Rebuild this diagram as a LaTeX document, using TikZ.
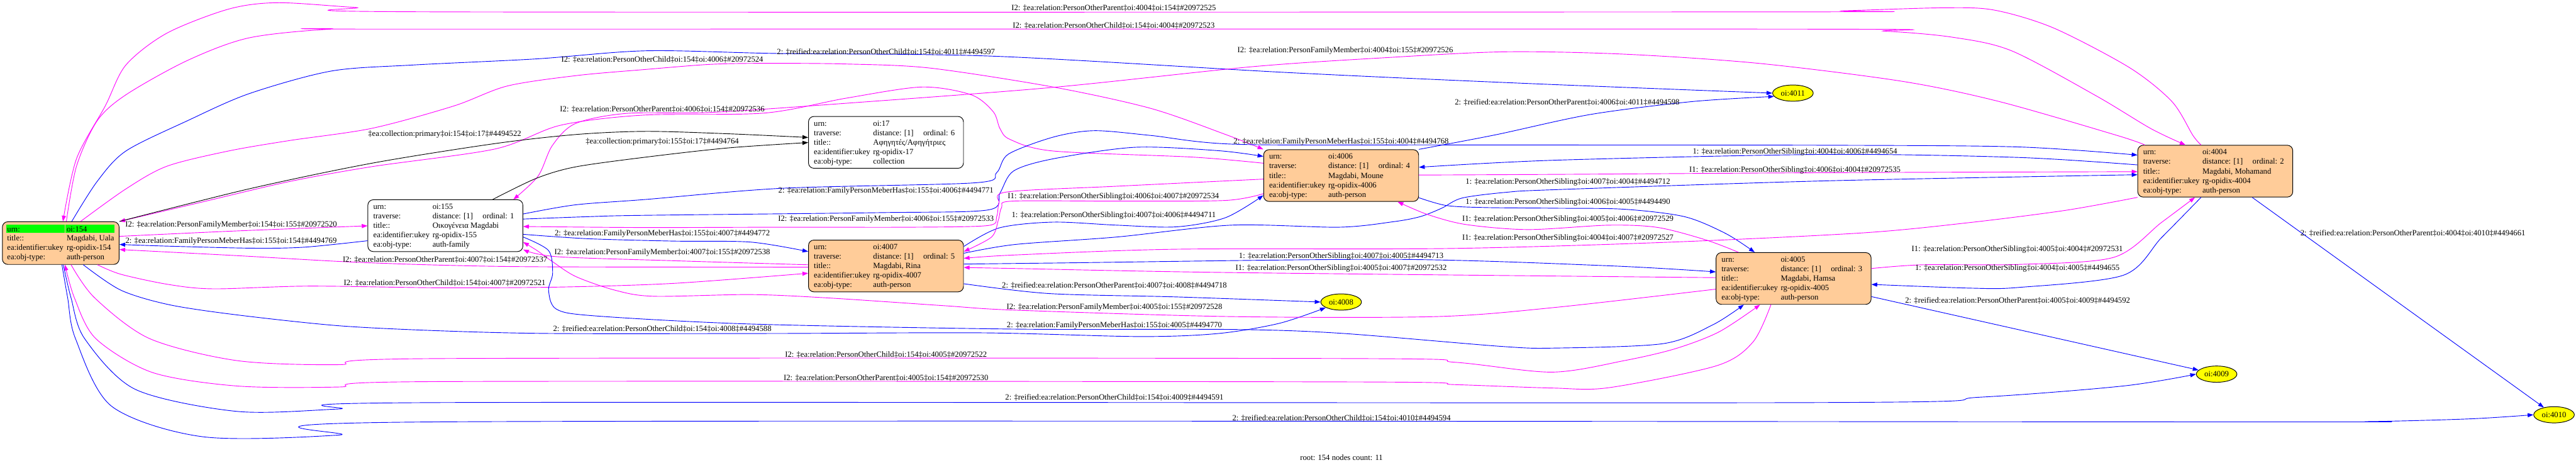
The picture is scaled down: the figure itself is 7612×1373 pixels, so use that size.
\documentclass[tikz,border=0pt]{standalone}
\usepackage{fontspec}
\setmainfont{Liberation Serif}
\usetikzlibrary{arrows.meta,shapes.geometric}
\definecolor{mag}{HTML}{FF00FF}
\definecolor{blu}{HTML}{0000FF}
\definecolor{peach}{HTML}{FFCC99}
\definecolor{grn}{HTML}{00FF00}
\definecolor{yel}{HTML}{FFFF00}
\tikzset{
  fnt/.style={font=\fontsize{23.6}{28}\selectfont},
  recbox/.style={draw=black,line width=1.8pt,rounded corners=16pt,minimum width=458pt,minimum height=153pt,inner sep=0pt},
  txt/.style={fnt,anchor=base west,inner sep=0pt},
  lbl/.style={fnt,anchor=base,inner sep=0pt},
  ell/.style={ellipse,draw=black,fill=yel,line width=1.8pt,minimum width=120pt,minimum height=48pt,inner sep=0pt,fnt},
  ge/.style={line width=1.7pt,-{Triangle[length=17pt,width=12pt]}},
  me/.style={ge,draw=mag,fill=none,-{Triangle[length=17pt,width=12pt,fill=mag]}},
  be/.style={ge,draw=blu,-{Triangle[length=17pt,width=12pt,fill=blu]}},
  ke/.style={ge,draw=black},
  sm/.style={smooth,tension=0.5}
}
\newcommand\recnode[9]{%
  \node[recbox,fill=#4] (#1) at (#2+229,#3+76.5) {};
  \node[txt] (#1a) at (#2+16,#3+28) {urn:};
  \node[txt] (#1b) at (#2+191,#3+28) {#5};
  \node[txt] (#1c) at (#2+16,#3+56) {traverse:};
  \node[txt] (#1d) at (#2+191,#3+56) {distance: [1]};
  \node[txt] (#1e) at (#2+339,#3+56) {ordinal: #6};
  \node[txt] (#1f) at (#2+16,#3+84) {title::};
  \node[txt] (#1g) at (#2+191,#3+84) {#7};
  \node[txt] (#1h) at (#2+16,#3+112) {ea:identifier:ukey};
  \node[txt] (#1i) at (#2+191,#3+112) {#8};
  \node[txt] (#1j) at (#2+16,#3+140) {ea:obj-type:};
  \node[txt] (#1k) at (#2+191,#3+140) {#9};
}
\begin{document}
\begin{tikzpicture}[x=1pt,y=-1pt]
\useasboundingbox (0,0) rectangle (7612,1373);
% ---------------- nodes
\node[recbox,fill=peach,minimum width=345pt,minimum height=126pt] (n154) at (179.5,718) {};
\node[fill=grn,minimum width=173pt,minimum height=25pt,inner sep=0pt] (g1) at (104.5,675.5) {};
\node[fill=grn,minimum width=145pt,minimum height=25pt,inner sep=0pt] (g2) at (265.5,675.5) {};
\node[txt] (n154a) at (21,684) {urn:};
\node[txt] (n154b) at (197,684) {oi:154};
\node[txt] (n154c) at (21,711) {title::};
\node[txt] (n154d) at (197,711) {Magdabi, Uala};
\node[txt] (n154e) at (21,739) {ea:identifier:ukey};
\node[txt] (n154f) at (197,739) {rg-opidix-154};
\node[txt] (n154g) at (21,767) {ea:obj-type:};
\node[txt] (n154h) at (197,767) {auth-person};
\recnode{n155}{1087}{590}{white}{oi:155}{1}{Οικογένεια Magdabi}{rg-opidix-155}{auth-family}
\recnode{n17}{2389}{344}{white}{oi:17}{6}{Αφηγητές/Αφηγήτριες}{rg-opidix-17}{collection}
\recnode{n4007}{2389}{709}{peach}{oi:4007}{5}{Magdabi, Rina}{rg-opidix-4007}{auth-person}
\recnode{n4006}{3734}{442}{peach}{oi:4006}{4}{Magdabi, Moune}{rg-opidix-4006}{auth-person}
\recnode{n4005}{5071}{746}{peach}{oi:4005}{3}{Magdabi, Hamsa}{rg-opidix-4005}{auth-person}
\recnode{n4004}{6317}{429}{peach}{oi:4004}{2}{Magdabi, Mohamand}{rg-opidix-4004}{auth-person}
\node[ell] (e4011) at (5298,275) {oi:4011};
\node[ell] (e4008) at (3963,892) {oi:4008};
\node[ell] (e4009) at (6550,1105) {oi:4009};
\node[ell] (e4010) at (7547,1225) {oi:4010};
% ---------------- edges
% E1 4004->154
\draw[me] plot[sm] coordinates {(6504,0 |- n4004.north) (6480,400) (6418,300) (6293,200) (6069,83) (5894,30) (5745,23) (5446,32) (5321,35) (1293,35) (1050,22) (820,8) (675,27) (493,98) (372,192) (311,313) (226,469) (186,0 |- n154.north)};
% E2 154->4004
\draw[me] plot[sm] coordinates {(196,0 |- n154.north) (226,491) (287,357) (372,280) (553,179) (735,112) (978,86) (1220,86) (5321,86) (5570,92) (5770,110) (5944,150) (6194,283) (6356,380) (6458,0 |- n4004.north)};
% E3 154->4011
\draw[be] plot[sm] coordinates {(212,0 |- n154.north) (287,536) (372,446) (553,357) (735,277) (978,210) (1220,192) (1584,174) (1909,150) (2300,158) (2936,166) (3800,214) (4500,246) (e4011.west)};
% E4 154->4006
\draw[me] plot[sm] coordinates {(238,0 |- n154.north) (372,558) (493,491) (675,446) (856,415) (1099,379) (1341,313) (1499,254) (1705,223) (1909,205) (2100,190) (2264,187) (2500,189) (2748,201) (3112,257) (3400,320) (3621,397) (n4006.north west)};
% E5 4004->155
\draw[me] plot[sm] coordinates {(6338,0 |- n4004.north) (6256,400) (5908,300) (5620,240) (5196,187) (4800,160) (4448,153) (4100,170) (3700,197) (3112,258) (2500,305) (2100,332) (1850,335) (1700,365) (1632,430) (1590,520) (1517,0 |- n155.north)};
% E6 4006->154
\draw[me] plot[sm] coordinates {(n4006.west |- 0,482) (3524,464) (3112,446) (2985,412) (2955,380) (2935,330) (2870,280) (2724,257) (2500,290) (2258,334) (1900,340) (1656,370) (1463,440) (1100,492) (856,536) (600,596) (n154.north east)};
% E7 154->17
\draw[ke] plot[sm] coordinates {(n154.north east) (735,558) (1099,482) (1463,424) (1705,397) (1909,388) (2150,395) (n17.west |- 0,406)};
% E8 155->17
\draw[ke] plot[sm] coordinates {(1456,0 |- n155.north) (1584,527) (1700,493) (1909,464) (2150,437) (n17.west |- 0,421)};
% E9 154->155
\draw[me] plot[sm] coordinates {(n154.east |- 0,698) (700,682) (n155.west |- 0,667)};
% E10 155->154
\draw[be] plot[sm] coordinates {(n155.west |- 0,711) (900,730) (746,733) (497,727) (n154.east |- 0,722)};
% E11 4006->4011
\draw[be] plot[sm] coordinates {(n4006.north east) (4420,398) (4700,338) (5000,300) (e4011.190)};
% E12 155->4004
\draw[be] plot[sm] coordinates {(n155.east |- 0,632) (1700,605) (1909,589) (2312,556) (2880,540) (2945,510) (2980,455) (3112,405) (3233,386) (3400,400) (3650,426) (4274,428) (5400,429) (5964,434) (n4004.west |- 0,458)};
% E13 155->4006
\draw[be] plot[sm] coordinates {(n155.east |- 0,647) (1736,640) (1900,636) (2600,628) (2920,620) (2955,570) (2995,505) (3112,469) (3354,435) (3600,445) (n4006.west |- 0,462)};
% E14 4006->155
\draw[me] plot[sm] coordinates {(n4006.west |- 0,529) (3300,550) (2975,567) (2952,600) (2945,640) (2920,666) (2700,671) (2306,671) (1900,672) (n155.east |- 0,669)};
% E15 155->4007
\draw[be] plot[sm] coordinates {(n155.east |- 0,692) (1736,705) (1989,712) (2218,715) (n4007.west |- 0,743)};
% E16 4007->155
\draw[me] plot[sm] coordinates {(n4007.west |- 0,782) (1989,770) (1644,758) (n155.east |- 0,737)};
% E17 4007->154
\draw[me] plot[sm] coordinates {(n4007.west |- 0,789) (1612,788) (1300,783) (1020,773) (700,755) (n154.east |- 0,737)};
% E18 154->4007
\draw[me] plot[sm] coordinates {(288,0 |- n154.south) (357,810) (497,840) (630,853) (912,845) (1300,850) (1644,848) (1989,837) (n4007.west |- 0,807)};
% E19 154->4008
\draw[be] plot[sm] coordinates {(246,0 |- n154.south) (357,857) (500,900) (700,930) (1000,962) (1300,977) (1635,985) (2276,985) (2900,983) (3367,994) (3600,985) (3780,955) (e4008.200)};
% E20 154->4005
\draw[me] plot[sm] coordinates {(210,0 |- n154.south) (280,880) (442,1000) (700,1065) (1000,1077) (1295,1059) (3996,1059) (4300,1070) (4586,1099) (4800,1065) (4950,1030) (5080,980) (5201,0 |- n4005.south)};
% E21 4005->154
\draw[me] plot[sm] coordinates {(5233,0 |- n4005.south) (5180,1010) (5073,1080) (4754,1145) (4586,1146) (4300,1136) (3996,1128) (1295,1127) (1000,1143) (700,1140) (450,1100) (283,1000) (220,880) (192,0 |- n154.south)};
% E22 154->4009
\draw[be] plot[sm] coordinates {(187,0 |- n154.south) (210,880) (250,1000) (400,1150) (700,1215) (1000,1208) (1295,1189) (5354,1189) (5852,1173) (6274,1140) (e4009.west)};
% E23 154->4010
\draw[be] plot[sm] coordinates {(183,0 |- n154.south) (200,880) (223,1000) (330,1200) (600,1290) (1000,1285) (1295,1246) (6612,1246) (7000,1245) (7300,1237) (e4010.west)};
% E25 4007->4006
\draw[be] plot[sm] coordinates {(n4007.east |- 0,728) (2953,673) (3112,656) (3300,665) (3476,670) (3621,643) (n4006.west |- 0,577)};
% E26 4006->4007
\draw[me] plot[sm] coordinates {(n4006.west |- 0,572) (3621,592) (3300,594) (2991,594) (2960,612) (2950,650) (2930,700) (n4007.east |- 0,743)};
% E27 4004->4006
\draw[be] plot[sm] coordinates {(n4004.west |- 0,487) (5964,465) (5400,456) (4600,473) (n4006.east |- 0,494)};
% E28 4006->4004
\draw[me] plot[sm] coordinates {(n4006.east |- 0,517) (4600,515) (5400,510) (n4004.west |- 0,507)};
% E29 4007->4004
\draw[be] plot[sm] coordinates {(n4007.east |- 0,748) (3000,722) (3300,700) (3638,665) (3957,671) (4116,655) (4196,640) (4260,615) (4320,585) (4450,568) (4600,560) (5400,534) (n4004.west |- 0,516)};
% E30 4006->4005
\draw[be] plot[sm] coordinates {(n4006.east |- 0,584) (4274,607) (4389,613) (4600,615) (4800,618) (4978,640) (5100,690) (5185,0 |- n4005.north)};
% E31 4005->4006
\draw[me] plot[sm] coordinates {(5137,0 |- n4005.north) (5042,709) (4900,672) (4754,665) (4515,678) (4331,663) (4217,633) (4130,0 |- n4006.south)};
% E32 4004->4007
\draw[me] plot[sm] coordinates {(n4004.south west) (6105,621) (5823,657) (5501,688) (4914,716) (4276,734) (3478,736) (3000,753) (n4007.east |- 0,763)};
% E33 4007->4005
\draw[be] plot[sm] coordinates {(n4007.east |- 0,780) (3100,777) (4116,766) (4754,785) (n4005.west |- 0,803)};
% E34 4005->4007
\draw[me] plot[sm] coordinates {(n4005.west |- 0,820) (3638,805) (3000,793) (n4007.east |- 0,790)};
% E35 4007->4008
\draw[be] plot[sm] coordinates {(n4007.east |- 0,838) (3100,867) (3478,877) (e4008.west)};
% E36 4005->155
\draw[me] plot[sm] coordinates {(n4005.west |- 0,854) (4595,908) (4244,935) (3638,935) (3000,916) (2792,903) (2448,880) (2218,870) (1931,875) (1817,857) (1702,817) (1633,773) (1587,740) (n155.east |- 0,715)};
% E37 155->4005
\draw[be] plot[sm] coordinates {(n155.east |- 0,700) (1621,740) (1633,807) (1621,857) (1644,913) (1759,933) (2218,957) (3000,972) (3638,973) (3957,984) (4435,1023) (4595,1028) (4914,1015) (5060,960) (5153,0 |- n4005.south)};
% E38 4005->4004
\draw[me] plot[sm] coordinates {(n4005.east |- 0,793) (5682,782) (5964,781) (6246,760) (6387,657) (6486,0 |- n4004.south)};
% E39 4004->4005
\draw[be] plot[sm] coordinates {(6504,0 |- n4004.south) (6387,702) (6274,813) (5964,849) (5823,851) (n4005.east |- 0,840)};
% E40 4005->4009
\draw[be] (n4005.east |- 0,876) -- (e4009);
% E41 4004->4010
\draw[be] (6655,0 |- n4004.south) -- (e4010);
% ---------------- labels
\node[lbl] (l1) at (3291,31) {I2: ‡ea:relation:PersonOtherParent‡oi:4004‡oi:154‡\#20972525};
\node[lbl] (l2) at (3291,83) {I2: ‡ea:relation:PersonOtherChild‡oi:154‡oi:4004‡\#20972523};
\node[lbl] (l3) at (2618,160) {2: ‡reified:ea:relation:PersonOtherChild‡oi:154‡oi:4011‡\#4494597};
\node[lbl] (l4) at (1957,183) {I2: ‡ea:relation:PersonOtherChild‡oi:154‡oi:4006‡\#20972524};
\node[lbl] (l5) at (3975,155) {I2: ‡ea:relation:PersonFamilyMember‡oi:4004‡oi:155‡\#20972526};
\node[lbl] (l6) at (1957,330) {I2: ‡ea:relation:PersonOtherParent‡oi:4006‡oi:154‡\#20972536};
\node[lbl] (l7) at (1314,403) {‡ea:collection:primary‡oi:154‡oi:17‡\#4494522};
\node[lbl] (l8) at (1957,424) {‡ea:collection:primary‡oi:155‡oi:17‡\#4494764};
\node[lbl] (l9) at (683,670) {I2: ‡ea:relation:PersonFamilyMember‡oi:154‡oi:155‡\#20972520};
\node[lbl] (l10) at (683,718) {2: ‡ea:relation:FamilyPersonMeberHas‡oi:155‡oi:154‡\#4494769};
\node[lbl] (l11) at (4631,310) {2: ‡reified:ea:relation:PersonOtherParent‡oi:4006‡oi:4011‡\#4494598};
\node[lbl] (l12) at (3963,424) {2: ‡ea:relation:FamilyPersonMeberHas‡oi:155‡oi:4004‡\#4494768};
\node[lbl] (l13) at (2618,570) {2: ‡ea:relation:FamilyPersonMeberHas‡oi:155‡oi:4006‡\#4494771};
\node[lbl] (l14) at (2618,653) {I2: ‡ea:relation:PersonFamilyMember‡oi:4006‡oi:155‡\#20972533};
\node[lbl] (l15) at (1957,696) {2: ‡ea:relation:FamilyPersonMeberHas‡oi:155‡oi:4007‡\#4494772};
\node[lbl] (l16) at (1957,752) {I2: ‡ea:relation:PersonFamilyMember‡oi:4007‡oi:155‡\#20972538};
\node[lbl] (l17) at (1315,774) {I2: ‡ea:relation:PersonOtherParent‡oi:4007‡oi:154‡\#20972537};
\node[lbl] (l18) at (1314,842) {I2: ‡ea:relation:PersonOtherChild‡oi:154‡oi:4007‡\#20972521};
\node[lbl] (l19) at (1957,979) {2: ‡reified:ea:relation:PersonOtherChild‡oi:154‡oi:4008‡\#4494588};
\node[lbl] (l20) at (2618,1055) {I2: ‡ea:relation:PersonOtherChild‡oi:154‡oi:4005‡\#20972522};
\node[lbl] (l21) at (2618,1124) {I2: ‡ea:relation:PersonOtherParent‡oi:4005‡oi:154‡\#20972530};
\node[lbl] (l22) at (3293,1181) {2: ‡reified:ea:relation:PersonOtherChild‡oi:154‡oi:4009‡\#4494591};
\node[lbl] (l23) at (3964,1242) {2: ‡reified:ea:relation:PersonOtherChild‡oi:154‡oi:4010‡\#4494594};
\node[lbl] (l24) at (3964,1359) {root: 154 nodes count: 11};
\node[lbl] (l25) at (3291,642) {1: ‡ea:relation:PersonOtherSibling‡oi:4007‡oi:4006‡\#4494711};
\node[lbl] (l26) at (3290,587) {I1: ‡ea:relation:PersonOtherSibling‡oi:4006‡oi:4007‡\#20972534};
\node[lbl] (l27) at (5304,454) {1: ‡ea:relation:PersonOtherSibling‡oi:4004‡oi:4006‡\#4494654};
\node[lbl] (l28) at (5304,508) {I1: ‡ea:relation:PersonOtherSibling‡oi:4006‡oi:4004‡\#20972535};
\node[lbl] (l29) at (4633,544) {1: ‡ea:relation:PersonOtherSibling‡oi:4007‡oi:4004‡\#4494712};
\node[lbl] (l30) at (4633,603) {1: ‡ea:relation:PersonOtherSibling‡oi:4006‡oi:4005‡\#4494490};
\node[lbl] (l31) at (4633,654) {I1: ‡ea:relation:PersonOtherSibling‡oi:4005‡oi:4006‡\#20972529};
\node[lbl] (l32) at (4633,709) {I1: ‡ea:relation:PersonOtherSibling‡oi:4004‡oi:4007‡\#20972527};
\node[lbl] (l33) at (3963,763) {1: ‡ea:relation:PersonOtherSibling‡oi:4007‡oi:4005‡\#4494713};
\node[lbl] (l34) at (3963,798) {I1: ‡ea:relation:PersonOtherSibling‡oi:4005‡oi:4007‡\#20972532};
\node[lbl] (l35) at (3293,851) {2: ‡reified:ea:relation:PersonOtherParent‡oi:4007‡oi:4008‡\#4494718};
\node[lbl] (l36) at (3293,913) {I2: ‡ea:relation:PersonFamilyMember‡oi:4005‡oi:155‡\#20972528};
\node[lbl] (l37) at (3293,967) {2: ‡ea:relation:FamilyPersonMeberHas‡oi:155‡oi:4005‡\#4494770};
\node[lbl] (l38) at (5961,743) {I1: ‡ea:relation:PersonOtherSibling‡oi:4005‡oi:4004‡\#20972531};
\node[lbl] (l39) at (5961,799) {1: ‡ea:relation:PersonOtherSibling‡oi:4004‡oi:4005‡\#4494655};
\node[lbl] (l40) at (5962,895) {2: ‡reified:ea:relation:PersonOtherParent‡oi:4005‡oi:4009‡\#4494592};
\node[lbl] (l41) at (7130,696) {2: ‡reified:ea:relation:PersonOtherParent‡oi:4004‡oi:4010‡\#4494661};
\end{tikzpicture}
\end{document}
